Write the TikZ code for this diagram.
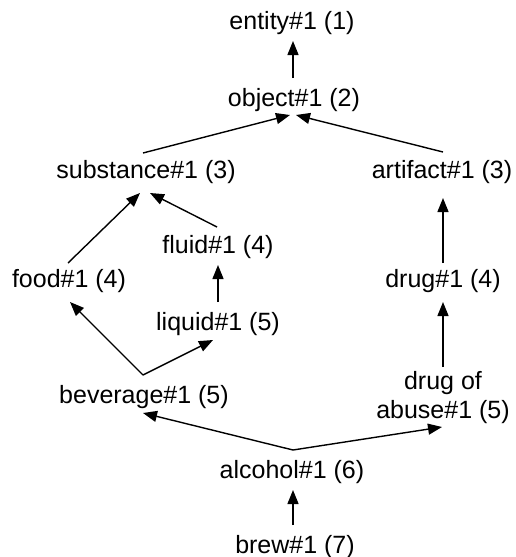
\documentclass[tikz,border=0pt]{standalone}
\usepackage{fontspec}
\setmainfont{Liberation Sans}
\usetikzlibrary{arrows.meta}
\begin{document}
\begin{tikzpicture}[x=1pt,y=-1pt,
  concept/.style={anchor=base,inner sep=0pt,align=center,
    font=\fontsize{25}{29}\selectfont},
  isa/.style={line width=1.4pt,-{Triangle[length=14pt,width=11pt]}}]
\useasboundingbox (0,0) rectangle (516,557);

% synset nodes, placed at their (last) baselines
\node[concept] (ent)    at (292,29)  {entity\#1 (1)};
\node[concept] (obj)    at (294,106) {object\#1 (2)};
\node[concept] (sub)    at (146,178) {substance\#1 (3)};
\node[concept] (art)    at (442,178) {artifact\#1 (3)};
\node[concept] (fluid)  at (218,253) {fluid\#1 (4)};
\node[concept] (food)   at (69,287)  {food\#1 (4)};
\node[concept] (drug)   at (443,287) {drug\#1 (4)};
\node[concept] (liquid) at (218,330) {liquid\#1 (5)};
\node[concept] (bev)    at (144,403) {beverage\#1 (5)};
\node[concept] (doa)    at (443,418) {drug of\\abuse\#1 (5)};
\node[concept] (alc)    at (292,478) {alcohol\#1 (6)};
\node[concept] (brew)   at (295,553) {brew\#1 (7)};

% hypernym links
\draw[isa] ([shift={(-1,-28)}]obj.base)    -- ([shift={(1,12)}]ent.base);
\draw[isa] ([shift={(-3,-25)}]sub.base)    -- ([shift={(-4,9)}]obj.base);
\draw[isa] ([shift={(1,-26)}]art.base)     -- ([shift={(2,9)}]obj.base);
\draw[isa] ([shift={(-1,-24)}]food.base)   -- ([shift={(-6,15)}]sub.base);
\draw[isa] ([shift={(-1,-26)}]fluid.base)  -- ([shift={(4,15)}]sub.base);
\draw[isa] ([shift={(0,-28)}]liquid.base)  -- ([shift={(0,12)}]fluid.base);
\draw[isa] ([shift={(0,-24)}]drug.base)    -- ([shift={(1,20)}]art.base);
\draw[isa] ([shift={(0,-51)}]doa.base)     -- ([shift={(0,15)}]drug.base);
\draw[isa] ([shift={(-1,-28)}]bev.base)    -- ([shift={(1,15)}]food.base);
\draw[isa] ([shift={(-1,-28)}]bev.base)    -- ([shift={(-5,10)}]liquid.base);
\draw[isa] ([shift={(1,-28)}]alc.base)     -- ([shift={(-1,10)}]bev.base);
\draw[isa] ([shift={(1,-28)}]alc.base)     -- ([shift={(-1,9)}]doa.base);
\draw[isa] ([shift={(-2,-28)}]brew.base)   -- ([shift={(1,12)}]alc.base);
\end{tikzpicture}
\end{document}
